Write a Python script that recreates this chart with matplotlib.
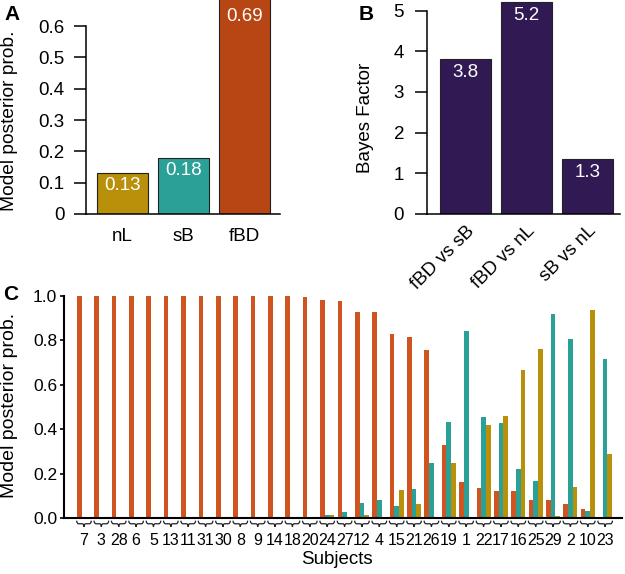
import numpy as np
import matplotlib
matplotlib.use("Agg")
import matplotlib.pyplot as plt
from matplotlib.path import Path
from matplotlib.patches import PathPatch
import matplotlib.transforms as mtransforms

plt.rcParams['font.family'] = ['Liberation Sans', 'DejaVu Sans']

# ---- data ----
models = ['nL', 'sB', 'fBD']
model_prob = [0.13, 0.18, 0.69]

comparisons = ['fBD vs sB', 'fBD vs nL', 'sB vs nL']
bayes_factor = [3.8, 5.2, 1.34]

subjects = ['7', '3', '28', '6', '5', '13', '11', '31', '30', '8', '9', '14', '18',
            '20', '24', '27', '12', '4', '15', '21', '26', '19', '1', '22', '17',
            '16', '25', '29', '2', '10', '23']
p_fbd = [1.0, 1.0, 1.0, 1.0, 1.0, 1.0, 1.0, 1.0, 1.0, 1.0, 1.0, 1.0, 1.0,
         0.995, 0.98, 0.977, 0.928, 0.928, 0.83, 0.817, 0.758, 0.327, 0.162, 0.135, 0.123,
         0.123, 0.08, 0.08, 0.065, 0.04, 0.006]
p_sb = [0, 0, 0, 0, 0, 0, 0, 0, 0, 0, 0, 0, 0,
        0.0, 0.015, 0.028, 0.069, 0.08, 0.054, 0.13, 0.249, 0.432, 0.844, 0.456, 0.428,
        0.222, 0.168, 0.92, 0.805, 0.033, 0.716]
p_nl = [0, 0, 0, 0, 0, 0, 0, 0, 0, 0, 0, 0, 0,
        0.005, 0.012, 0.0, 0.013, 0.0, 0.125, 0.063, 0.0, 0.249, 0.0, 0.419, 0.458,
        0.665, 0.763, 0.009, 0.14, 0.937, 0.288]

gold = '#B8900A'
teal = '#2BA097'
orange_a = '#B84514'
orange_c = '#CF5420'
purple = '#311A53'

W, H = 625, 574
fig = plt.figure(figsize=(W / 100, H / 100), dpi=100)


def rect(l, t, r, b):
    return [l / W, 1 - b / H, (r - l) / W, (b - t) / H]


def style(ax, lw):
    ax.spines['top'].set_visible(False)
    ax.spines['right'].set_visible(False)
    ax.spines['left'].set_linewidth(lw)
    ax.spines['bottom'].set_linewidth(lw)


# ---- panel A ----
axA = fig.add_axes(rect(86, 0, 280, 214))
style(axA, 1.1)
xa = np.arange(len(models))
axA.bar(xa, model_prob, width=0.84, color=[gold, teal, orange_a],
        edgecolor='#222222', linewidth=0.8)
for x, v in zip(xa, model_prob):
    axA.annotate(f'{v:.2f}', (x, min(v, 0.672)), xytext=(0, -3), textcoords='offset points',
                 ha='center', va='top', color='white', fontsize=13.5)
axA.set_xlim(-0.6, 2.58)
axA.set_ylim(0, 0.683)
axA.spines['left'].set_bounds(0, 0.6)
axA.set_yticks([0, 0.1, 0.2, 0.3, 0.4, 0.5, 0.6])
axA.set_yticklabels(['0', '0.1', '0.2', '0.3', '0.4', '0.5', '0.6'])
axA.set_xticks(xa)
axA.set_xticklabels(models)
axA.tick_params(axis='y', length=8.5, width=1.1, pad=7, labelsize=13.5)
axA.tick_params(axis='x', length=0, pad=10, labelsize=13.5)

# ---- panel B ----
axB = fig.add_axes(rect(427, 0, 620, 214))
style(axB, 1.1)
xb = np.arange(len(comparisons))
axB.bar(xb, bayes_factor, width=0.84, color=purple, edgecolor='#222222', linewidth=0.8)
for x, v in zip(xb, bayes_factor):
    axB.annotate(f'{v:.1f}', (x, v), xytext=(0, -3), textcoords='offset points',
                 ha='center', va='top', color='white', fontsize=13.5)
axB.set_xlim(-0.64, 2.54)
axB.set_ylim(0, 5.26)
axB.spines['left'].set_bounds(0, 5)
axB.set_yticks([0, 1, 2, 3, 4, 5])
axB.set_xticks(xb)
axB.set_xticklabels(comparisons, rotation=45, ha='right', va='top', rotation_mode='anchor')
axB.tick_params(axis='y', length=8.5, width=1.1, pad=8, labelsize=13.5)
axB.tick_params(axis='x', length=0, pad=6, labelsize=13.5)

# ---- panel C ----
axC = fig.add_axes(rect(64, 296, 622, 518))
style(axC, 1.5)
xc = np.arange(len(subjects))
bw = 0.27
axC.bar(xc - bw, p_fbd, width=bw, color=orange_c, linewidth=0)
axC.bar(xc, p_sb, width=bw, color=teal, linewidth=0)
axC.bar(xc + bw, p_nl, width=bw, color=gold, linewidth=0)
axC.set_xlim(-1.15, 30.97)
axC.set_ylim(0, 1.0)
axC.set_yticks([0, 0.2, 0.4, 0.6, 0.8, 1.0])
axC.set_yticklabels(['0.0', '0.2', '0.4', '0.6', '0.8', '1.0'])
axC.set_xticks(xc)
axC.set_xticklabels(subjects)
axC.tick_params(axis='y', length=3, width=1.2, pad=2, labelsize=12.5)
axC.tick_params(axis='x', length=0, pad=11, labelsize=11.5)

# braces under each group
trans = mtransforms.blended_transform_factory(axC.transData, axC.transAxes)
y0, y1 = -0.012, -0.040
ym = (y0 + y1) / 2
for x in xc:
    verts = [(x - 0.42, y0), (x - 0.42, ym), (x - 0.3, ym),
             (x - 0.1, ym), (x, ym), (x, y1),
             (x, ym), (x + 0.1, ym),
             (x + 0.3, ym), (x + 0.42, ym), (x + 0.42, y0)]
    codes = [Path.MOVETO, Path.CURVE3, Path.CURVE3,
             Path.LINETO, Path.CURVE3, Path.CURVE3,
             Path.CURVE3, Path.CURVE3,
             Path.LINETO, Path.CURVE3, Path.CURVE3]
    axC.add_patch(PathPatch(Path(verts, codes), transform=trans, fill=False,
                            edgecolor='#222222', linewidth=0.9, clip_on=False))

# ---- labels ----
fig.text(10 / W, 1 - 121 / H, 'Model posterior prob.', rotation=90, ha='center', va='center', fontsize=13.8)
fig.text(366 / W, 1 - 118 / H, 'Bayes Factor', rotation=90, ha='center', va='center', fontsize=13.5)
fig.text(10 / W, 1 - 405 / H, 'Model posterior prob.', rotation=90, ha='center', va='center', fontsize=14)
fig.text(337 / W, 1 - 560 / H, 'Subjects', ha='center', va='center', fontsize=13.5)

fig.text(12 / W, 1 - 14 / H, 'A', ha='center', va='center', fontsize=15, fontweight='bold')
fig.text(366 / W, 1 - 14 / H, 'B', ha='center', va='center', fontsize=15, fontweight='bold')
fig.text(11 / W, 1 - 294 / H, 'C', ha='center', va='center', fontsize=15, fontweight='bold')

fig.savefig('out.png', dpi=100)
